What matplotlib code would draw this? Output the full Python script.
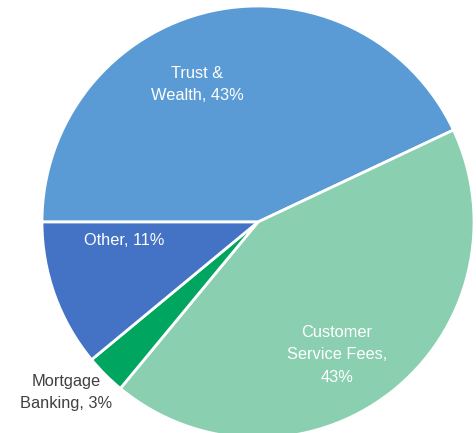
import matplotlib.pyplot as plt

# revenue mix
labels = ['Trust &\nWealth, 43%', 'Customer\nService Fees,\n43%', 'Mortgage\nBanking, 3%', 'Other, 11%']
shares = [43, 43, 3, 11]
colors = ['#5B9BD5', '#8ACFB0', '#00A65F', '#4472C4']

# label positions in pie units (radius = 1) and text colours
label_pos = [(-0.28, 0.635), (0.365, -0.615), (-0.89, -0.79), (-0.62, -0.085)]
label_col = ['white', 'white', '#404040', 'white']

plt.rcParams['font.family'] = ['Liberation Sans', 'DejaVu Sans']

fig = plt.figure(figsize=(4.77, 4.33), dpi=100)
ax = fig.add_axes([42 / 477, -5 / 433, 432 / 477, 432 / 433])
ax.pie(shares, colors=colors, startangle=180, counterclock=False,
       wedgeprops=dict(edgecolor='white', linewidth=2))
for lab, (x, y), c in zip(labels, label_pos, label_col):
    ax.text(x, y, lab, ha='center', va='center', color=c, fontsize=11.8,
            linespacing=1.6)
ax.set_xlim(-1, 1)
ax.set_ylim(-1, 1)
ax.set_aspect('equal')
ax.axis('off')

plt.savefig('out.png', dpi=100)
